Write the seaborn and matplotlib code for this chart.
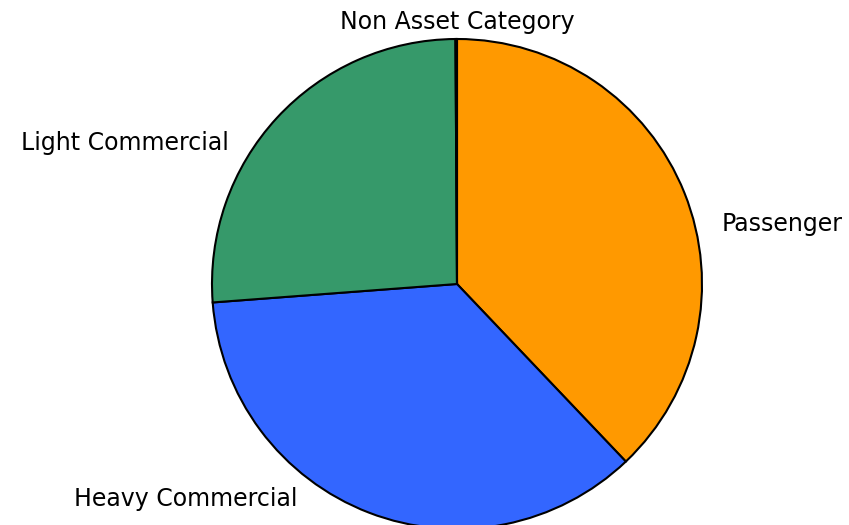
import matplotlib
matplotlib.use("Agg")
import matplotlib.pyplot as plt
import seaborn as sns

# slice data, clockwise from the top
categories = ["Passenger", "Heavy Commercial", "Light Commercial", "Non Asset Category"]
shares = [37.9, 35.9, 26.1, 0.1]
colors = ["#FF9900", "#3366FF", "#36996A", "#DC3912"]

# label anchor points (data units, pie radius = 1) and alignment
label_pos = {
    "Passenger": (1.082, 0.246, "left"),
    "Heavy Commercial": (-0.653, -0.876, "right"),
    "Light Commercial": (-0.931, 0.577, "right"),
    "Non Asset Category": (0.0, 1.070, "center"),
}

sns.set_style("white")
plt.rcParams["font.family"] = ["DejaVu Sans"]

fig = plt.figure(figsize=(8.49, 5.25), dpi=100)
ax = fig.add_axes([0, 0, 1, 1])

wedges, texts = ax.pie(
    shares,
    labels=categories,
    colors=colors,
    startangle=90,
    counterclock=False,
    wedgeprops={"edgecolor": "black", "linewidth": 1.5},
    textprops={"fontsize": 17, "color": "black"},
)

for t in texts:
    x, y, ha = label_pos[t.get_text()]
    t.set_position((x, y))
    t.set_ha(ha)
    t.set_va("center")

# pie centre at (457, 284) px, radius 245 px
r = 245.0
ax.set_xlim(-457 / r, (849 - 457) / r)
ax.set_ylim((284 - 525) / r, 284 / r)
ax.set_aspect("equal")
ax.axis("off")

plt.savefig("out.png", dpi=100)
